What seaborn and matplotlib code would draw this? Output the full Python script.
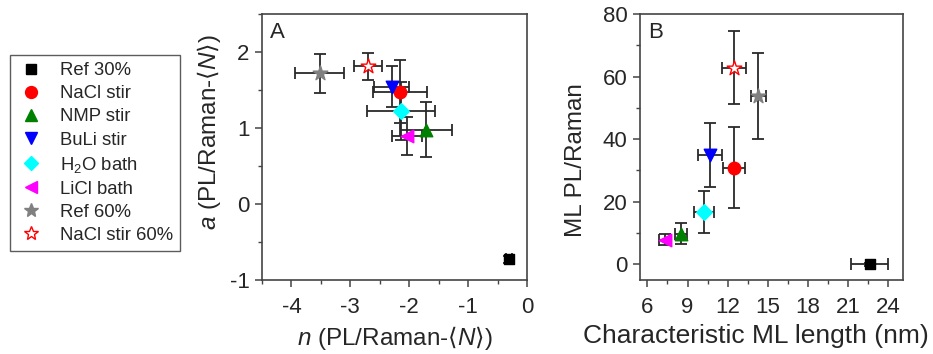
import matplotlib
matplotlib.use("Agg")
import matplotlib.pyplot as plt
import seaborn as sns
import pandas as pd
from matplotlib.lines import Line2D
from matplotlib.ticker import MultipleLocator

sns.set_style("white")
plt.rcParams['font.family'] = ['Liberation Sans', 'DejaVu Sans']
plt.rcParams['mathtext.fontset'] = 'custom'
plt.rcParams['mathtext.rm'] = 'Liberation Sans'
plt.rcParams['mathtext.it'] = 'Liberation Sans:italic'
plt.rcParams['mathtext.sf'] = 'DejaVu Sans'
plt.rcParams['axes.unicode_minus'] = False

samples = ["Ref 30%", "NaCl stir", "NMP stir", "BuLi stir", "H$_2$O bath",
           "LiCl bath", "Ref 60%", "NaCl stir 60%"]
colors = ["black", "red", "green", "blue", "cyan", "magenta", "gray", "white"]
edges = ["black", "red", "green", "blue", "cyan", "magenta", "gray", "red"]
markers = ["s", "o", "^", "v", "D", "<", "*", "*"]
sizes = [7, 9, 9, 9, 8, 9, 11, 11]

# Panel A: n vs a
n_val = [-0.30, -2.16, -1.72, -2.30, -2.14, -2.04, -3.52, -2.70]
n_err = [0.05, 0.46, 0.44, 0.30, 0.57, 0.25, 0.42, 0.24]
a_val = [-0.73, 1.48, 0.98, 1.54, 1.22, 0.895, 1.72, 1.81]
a_err = [0.05, 0.41, 0.36, 0.27, 0.38, 0.25, 0.26, 0.18]

# Panel B: characteristic ML length vs ML PL/Raman
len_val = [22.6, 12.47, 8.51, 10.68, 10.23, 7.32, 14.29, 12.5]
len_err = [1.39, 0.80, 0.46, 0.93, 0.77, 0.48, 0.56, 0.90]
pl_val = [0.0, 30.95, 9.85, 35.0, 16.6, 7.9, 53.8, 62.9]
pl_err = [0.5, 12.8, 3.4, 10.2, 6.7, 1.8, 13.6, 11.6]

dfA = pd.DataFrame({"sample": samples, "x": n_val, "xe": n_err, "y": a_val, "ye": a_err})
dfB = pd.DataFrame({"sample": samples, "x": len_val, "xe": len_err, "y": pl_val, "ye": pl_err})

fig = plt.figure(figsize=(9.33, 3.54), dpi=100)
axA = fig.add_axes([0.2808, 0.209, 0.284, 0.7514])
axB = fig.add_axes([0.686, 0.209, 0.2819, 0.7514])

ecol = "#2a2a2a"
for ax, df in ((axA, dfA), (axB, dfB)):
    ax.errorbar(df["x"], df["y"], xerr=df["xe"], yerr=df["ye"], fmt="none",
                ecolor=ecol, elinewidth=1.3, capsize=4.5, capthick=1.3, zorder=2)
    for i, row in df.iterrows():
        sub = df.iloc[[i]]
        sns.scatterplot(data=sub, x="x", y="y", ax=ax, marker=markers[i],
                        color=colors[i], edgecolor=edges[i], linewidth=1.0,
                        s=sizes[i] ** 2, zorder=3, legend=False)

for ax in (axA, axB):
    for sp in ax.spines.values():
        sp.set_color("#444444")
        sp.set_linewidth(1.2)
    ax.tick_params(axis="both", which="major", direction="out", length=5, width=1.1,
                   color="#444444", labelsize=16, bottom=True, left=True,
                   top=False, right=False)
    ax.tick_params(axis="x", which="major", pad=7)
    ax.tick_params(axis="y", which="major", pad=4)
    ax.tick_params(axis="both", which="minor", direction="out", length=3, width=1.0,
                   color="#444444", bottom=True, left=True, top=False, right=False)
    ax.set_xlabel("")
    ax.set_ylabel("")

lab_fs = 17.5
axA.set_xlim(-4.5, 0)
axA.set_ylim(-1, 2.5)
axA.xaxis.set_major_locator(MultipleLocator(1))
axA.xaxis.set_minor_locator(MultipleLocator(0.5))
axA.yaxis.set_major_locator(MultipleLocator(1))
axA.yaxis.set_minor_locator(MultipleLocator(0.5))
axA.set_xlabel(r"$\mathit{n}$ (PL/Raman-$\mathsf{⟨}\mathit{N}\mathsf{⟩}$)", fontsize=lab_fs)
axA.set_ylabel(r"$\mathit{a}$ (PL/Raman-$\mathsf{⟨}\mathit{N}\mathsf{⟩}$)", fontsize=lab_fs)
axA.xaxis.set_label_coords(0.5, -0.165)
axA.yaxis.set_label_coords(-0.148, 0.558)
axA.text(0.03, 0.97, "A", transform=axA.transAxes, ha="left", va="top", fontsize=16)

axB.set_xlim(5.45, 25.1)
axB.set_ylim(-5, 80)
axB.xaxis.set_major_locator(MultipleLocator(3))
axB.xaxis.set_minor_locator(MultipleLocator(1.5))
axB.yaxis.set_major_locator(MultipleLocator(20))
axB.yaxis.set_minor_locator(MultipleLocator(10))
axB.set_xlabel("Characteristic ML length (nm)", fontsize=19)
axB.set_ylabel("ML PL/Raman", fontsize=lab_fs)
axB.xaxis.set_label_coords(0.44, -0.165)
axB.yaxis.set_label_coords(-0.2, 0.451)
axB.text(0.03, 0.97, "B", transform=axB.transAxes, ha="left", va="top", fontsize=16)

handles = [Line2D([], [], linestyle="none", marker=markers[i], markerfacecolor=colors[i],
                  markeredgecolor=edges[i], markersize=sizes[i] * 0.95, markeredgewidth=1.0)
           for i in range(len(samples))]
leg = fig.legend(handles, samples, loc="upper left", bbox_to_anchor=(0.0107, 0.845),
                 frameon=True, fancybox=False, fontsize=13.3, handletextpad=0.8,
                 labelspacing=0.33, borderpad=0.4, handlelength=1.5, borderaxespad=0)
leg.get_frame().set_edgecolor("#333333")
leg.get_frame().set_linewidth(1.0)

fig.savefig("out.png", dpi=100)
